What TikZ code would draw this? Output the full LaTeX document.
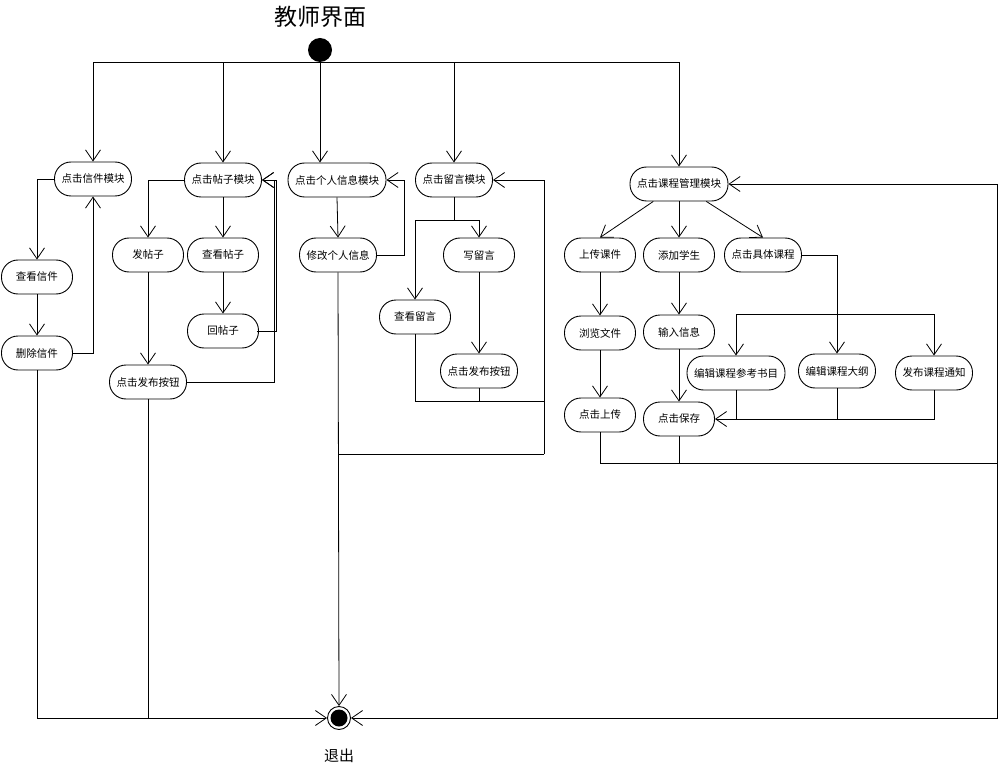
\documentclass[tikz,border=0pt]{standalone}
\usepackage{fontspec}
\setmainfont{Noto Sans CJK SC}
\usetikzlibrary{arrows.meta}
\begin{document}
\begin{tikzpicture}[x=1pt,y=-1pt,
  line width=0.8pt,
  act/.style={draw, line width=0.9pt, rectangle, rounded corners=16.5pt,
    minimum height=34pt, minimum width=71pt, inner xsep=7pt, inner ysep=0pt,
    font=\fontsize{10.5}{12}\selectfont},
  flow/.style={-{Straight Barb[length=11pt,width=15pt]}},
]
\useasboundingbox (0,0) rectangle (998,767);

% start / end
\node[font=\fontsize{23}{26}\selectfont] (title) at (320,17) {教师界面};
\node[circle, fill=black, minimum size=24pt, inner sep=0pt] (start) at (320,50) {};
\node[circle, draw, line width=0.9pt, minimum size=23pt, inner sep=0pt,
  path picture={\fill (path picture bounding box.center) circle (8.5pt);}] (end) at (339,718) {};
\node[font=\fontsize{15}{18}\selectfont] (quit) at (339,756) {退出};

% mail
\node[act] (xj) at (93,179) {点击信件模块};
\node[act] (ckxj) at (37,277) {查看信件};
\node[act] (scxj) at (37,353) {删除信件};

% posts
\node[act] (tz) at (223,180) {点击帖子模块};
\node[act] (ftz) at (148,255) {发帖子};
\node[act] (cktz) at (223,255) {查看帖子};
\node[act] (htz) at (223,331) {回帖子};
\node[act] (fb1) at (148,382) {点击发布按钮};

% personal info
\node[act] (grxx) at (337,180) {点击个人信息模块};
\node[act] (xg) at (338,255) {修改个人信息};

% messages
\node[act] (ly) at (454,180) {点击留言模块};
\node[act] (xly) at (479,255) {写留言};
\node[act] (ckly) at (415,317) {查看留言};
\node[act] (fb2) at (479,371) {点击发布按钮};

% courses
\node[act] (kc) at (679,184) {点击课程管理模块};
\node[act] (sckj) at (600,255) {上传课件};
\node[act] (tjxs) at (679,255) {添加学生};
\node[act] (jtkc) at (763,255) {点击具体课程};
\node[act] (llwj) at (600,333) {浏览文件};
\node[act] (srxx) at (679,332) {输入信息};
\node[act] (scsc) at (600,415) {点击上传};
\node[act] (bc) at (679,419) {点击保存};
\node[act] (cksm) at (736,373) {编辑课程参考书目};
\node[act] (dg) at (837,371) {编辑课程大纲};
\node[act] (tzn) at (934,373) {发布课程通知};

\coordinate (lyR) at (544,401);
\coordinate (lyB) at (544,454);
\coordinate (kcbar) at (837,314);
\coordinate (rb) at (997,463);

% branches from start
\draw[flow] (start.south) -| (xj.north);
\draw[flow] (start.south) -| (tz.north);
\draw[flow] (start.south) -- (start.south |- grxx.north);
\draw[flow] (start.south) -| (ly.north);
\draw[flow] (start.south) -| (kc.north);

% mail flow
\draw[flow] (xj.west) -| (ckxj.north);
\draw[flow] (ckxj) -- (scxj);
\draw[flow] (scxj.east) -| (xj.south);
\draw[flow] (scxj.south) |- (end.west);

% post flow
\draw[flow] (tz.west) -| (ftz.north);
\draw[flow] (tz) -- (cktz);
\draw[flow] (cktz) -- (htz);
\draw[flow] (ftz) -- (fb1);
\draw[flow] ([xshift=-2pt]htz.east) -| ([xshift=14pt]tz.east) -- (tz.east);
\draw[flow] (fb1.east) -| ([xshift=12.5pt]tz.east) -- (tz.east);
\draw (fb1.south) -- (fb1.south |- end.west);

% personal info flow
\draw[flow] (grxx.south) -- (xg.north);
\draw[flow] (xg.east) -| ([xshift=18pt]grxx.east) -- (grxx.east);
\draw[flow] (xg.south) -- (end.north);

% message flow
\draw[flow] (ly.south) -- ++(0,23) coordinate (lyb) -| (xly.north);
\draw[flow] (lyb) -| (ckly.north);
\draw[flow] (xly) -- (fb2);
\draw (ckly.south) |- (lyR);
\draw (fb2.south) -- (fb2.south |- lyR);
\draw[flow] (lyB) |- (ly.east);
\draw (lyB) -- (lyB -| xg.south);

% course flow
\draw[flow] (kc) -- (sckj.north);
\draw[flow] (kc) -- (tjxs);
\draw[flow] (kc) -- (jtkc.north);
\draw[flow] (sckj) -- (llwj);
\draw[flow] (llwj) -- (scsc);
\draw[flow] (tjxs) -- (srxx);
\draw[flow] (srxx) -- (bc);
\draw[flow] (jtkc.east) -| (dg.north);
\draw[flow] (kcbar) -| (cksm.north);
\draw[flow] (kcbar) -| (tzn.north);
\draw[flow] (tzn.south) |- (bc.east);
\draw (cksm.south) -- (cksm.south |- bc.east);
\draw (dg.south) -- (dg.south |- bc.east);
\draw (scsc.south) |- (rb);
\draw (bc.south) -- (bc.south |- rb);
\draw[flow] (rb) |- (kc.east);
\draw[flow] (rb) |- (end.east);
\end{tikzpicture}
\end{document}
